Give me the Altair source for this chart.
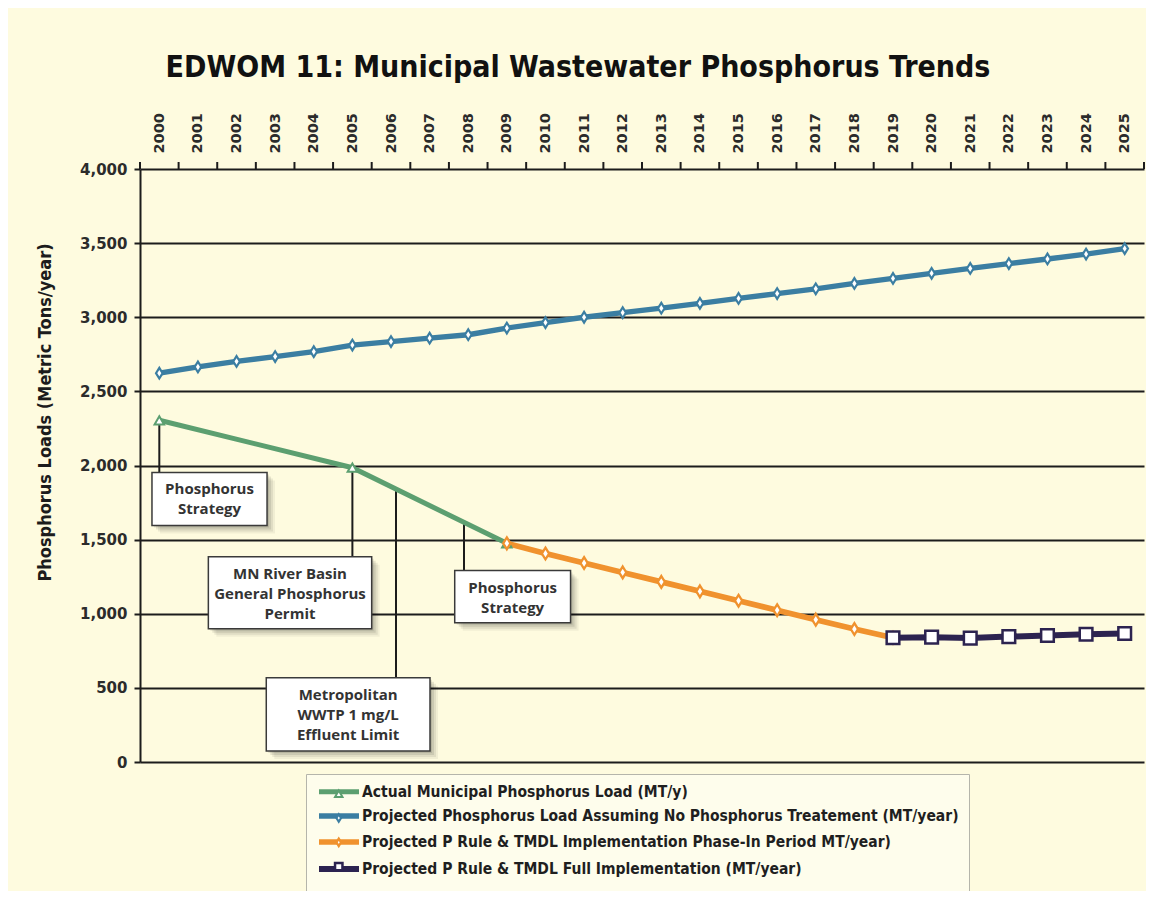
import altair as alt
import pandas as pd

# ---------------- data ----------------
years = list(range(2000, 2026))

S_ACTUAL = "Actual Municipal Phosphorus Load (MT/y)"
S_NOTREAT = "Projected Phosphorus Load Assuming No Phosphorus Treatement (MT/year)"
S_PHASE = "Projected P Rule & TMDL Implementation Phase-In Period MT/year)"
S_FULL = "Projected P Rule & TMDL Full Implementation (MT/year)"
series_names = [S_ACTUAL, S_NOTREAT, S_PHASE, S_FULL]

actual_years = [2000, 2005, 2009]
actual_values = [2305, 1985, 1475]

notreat_years = years
notreat_values = [2623, 2665, 2702, 2735, 2768, 2812, 2836, 2859, 2882, 2927,
                  2964, 3000, 3031, 3061, 3094, 3127, 3160, 3192, 3228, 3262,
                  3296, 3329, 3362, 3393, 3426, 3463]

phase_years = list(range(2009, 2020))
phase_values = [1475, 1406, 1342, 1279, 1215, 1151, 1088, 1024, 960, 897, 838]

full_years = list(range(2019, 2026))
full_values = [838, 842, 836, 846, 853, 862, 867]

y_ticks = [0, 500, 1000, 1500, 2000, 2500, 3000, 3500, 4000]

note_texts = ["Phosphorus\nStrategy",
              "MN River Basin\nGeneral Phosphorus\nPermit",
              "Metropolitan\nWWTP 1 mg/L\nEffluent Limit",
              "Phosphorus\nStrategy"]
note_anchor_year = [2000, 2005, 2006.13, 2007.89]
note_anchor_value = [2305, 1985, 1840, 1617]
note_box_x1 = [1999.81, 2001.27, 2002.77, 2007.65]
note_box_x2 = [2002.79, 2005.50, 2007.01, 2010.65]
note_box_top = [1953, 1385, 568, 1291]
note_box_bottom = [1595, 899, 74, 939]

# ---------------- styles ----------------
colors = ["#5c9f70", "#3b7ea2", "#f0922e", "#2c2350"]
line_widths = [5, 6, 5, 5]
marker_shapes = ["triangle-up", "M0,-1L0.62,0L0,1L-0.62,0Z", "M0,-1L0.62,0L0,1L-0.62,0Z", "square"]
marker_sizes = [90, 160, 160, 130]
marker_strokes = [2, 2.5, 2.5, 3]

BG = "#FEFBDF"
INK = "#1c1c1c"
COND = "DejaVu Sans Condensed, DejaVu Sans, sans-serif"
WIDE = "DejaVu Sans, Verdana, sans-serif"
BOXF = "Open Sans, DejaVu Sans, sans-serif"

rows = []
for s, ys, vs in [(S_ACTUAL, actual_years, actual_values),
                  (S_NOTREAT, notreat_years, notreat_values),
                  (S_PHASE, phase_years, phase_values),
                  (S_FULL, full_years, full_values)]:
    for y, v in zip(ys, vs):
        rows.append({"year": y, "value": v, "series": s})
df = pd.DataFrame(rows)

notes = pd.DataFrame({
    "text": note_texts,
    "ax": note_anchor_year,
    "ay": note_anchor_value,
    "x1": note_box_x1,
    "x2": note_box_x2,
    "top": note_box_top,
    "bottom": note_box_bottom,
})
notes["cx"] = (notes["x1"] + notes["x2"]) / 2

tick_df = pd.DataFrame({"x": [y - 0.5 for y in years] + [years[-1] + 0.5]})
tick_df["y"] = y_ticks[-1]

x_scale = alt.Scale(domain=[1999.5, 2025.5], nice=False, zero=False)
y_scale = alt.Scale(domain=[0, 4000], nice=False)

x_axis = alt.Axis(orient="top", values=years, format="d", labelAngle=270,
                  labelAlign="left", labelBaseline="middle", labelFont=WIDE,
                  labelFontSize=14.5, labelFontWeight="bold", labelColor="#2b2b2b",
                  labelPadding=16, ticks=False, domain=False, grid=False,
                  labelFlush=False, labelOverlap=False, title=None)
y_axis = alt.Axis(values=y_ticks, format=",d", labelFont=WIDE, labelFontSize=15,
                  labelFontWeight="bold", labelColor="#2b2b2b", labelPadding=7,
                  tickSize=6, tickColor=INK, tickWidth=2, domainColor=INK,
                  domainWidth=2, grid=True, gridColor=INK, gridWidth=2,
                  gridOpacity=1,
                  title="Phosphorus Loads (Metric Tons/year)", titleFont=COND,
                  titleFontSize=18, titleFontWeight="bold", titleColor=INK,
                  titleX=-95, titleY=243, titleAngle=270, titleAlign="center",
                  titleBaseline="middle")


def X(field):
    return alt.X(field, type="quantitative", scale=x_scale, axis=x_axis)


def Y(field):
    return alt.Y(field, type="quantitative", scale=y_scale, axis=y_axis)


stroke_scale = alt.Scale(domain=series_names, range=colors)

legend_common = dict(orient="none", legendX=166, padding=10,
                     title=None, labelFont=COND, labelFontSize=15.5,
                     labelFontWeight="bold",
                     symbolOffset=15, labelOffset=15, labelLimit=800)
line_legend = alt.Legend(symbolType="M-4,0H4", symbolSize=100,
                         symbolStrokeWidth=6, fillColor="#FEFDEC",
                         strokeColor="#b5b5ab", labelColor="#1f1f1f",
                         legendY=605, rowPadding=3, **legend_common)
point_legend = alt.Legend(symbolSize=55, symbolStrokeWidth=2,
                          symbolFillColor="white", labelColor="rgba(0,0,0,0)",
                          legendY=607, rowPadding=6.3, **legend_common)

# ---------------- layers ----------------
ticks = alt.Chart(tick_df).mark_rule(color=INK, strokeWidth=2, y2Offset=-7).encode(
    x=X("x"), y=Y("y"), y2="y")

shadow_layers = []
for off, op in [(8, 0.05), (6, 0.07), (4, 0.09), (2, 0.1)]:
    shadow_layers.append(
        alt.Chart(notes).mark_rect(fill="black", opacity=op, xOffset=off,
                                    x2Offset=off, yOffset=off, y2Offset=off).encode(
            x=X("x1"), x2="x2", y=Y("top"), y2="bottom"))

leaders = alt.Chart(notes).mark_rule(color=INK, strokeWidth=2).encode(
    x=X("ax"), y=Y("ay"), y2="top")

boxes = alt.Chart(notes).mark_rect(fill="white", stroke="#3a3a3a", strokeWidth=1.5).encode(
    x=X("x1"), x2="x2", y=Y("top"), y2="bottom")

box_text = alt.Chart(notes).mark_text(font=BOXF, fontSize=15, fontWeight="bold",
                                      color="#333333", lineBreak="\n", lineHeight=20,
                                      align="center", baseline="top", dy=10).encode(
    x=X("cx"), y=Y("top"), text="text:N")

lines = alt.Chart(df).mark_line().encode(
    x=X("year"), y=Y("value"),
    stroke=alt.Stroke("series:N", scale=stroke_scale, legend=line_legend),
    strokeWidth=alt.StrokeWidth("series:N", scale=alt.Scale(domain=series_names, range=line_widths), legend=None),
)

points = alt.Chart(df).mark_point(filled=True, fill="white", opacity=1).encode(
    x=X("year"), y=Y("value"),
    stroke=alt.Stroke("series:N", scale=stroke_scale, legend=point_legend),
    shape=alt.Shape("series:N", scale=alt.Scale(domain=series_names, range=marker_shapes), legend=point_legend),
    size=alt.Size("series:N", scale=alt.Scale(domain=series_names, range=marker_sizes), legend=None),
    strokeWidth=alt.StrokeWidth("series:N", scale=alt.Scale(domain=series_names, range=marker_strokes), legend=None),
    order=alt.Order("series_order:Q"),
).transform_calculate(
    series_order="indexof(%s, datum.series)" % str(series_names)
)

chart = alt.layer(ticks, *shadow_layers, leaders, boxes, box_text, lines, points).resolve_legend(
    stroke="independent", shape="independent"
).resolve_scale(strokeWidth="independent").properties(
    width=1004, height=593,
    background=BG,
    padding={"left": 132, "top": 161, "right": 2, "bottom": 129},
    autosize=alt.AutoSizeParams(type="none"),
    title=alt.TitleParams("EDWOM 11:  Municipal Wastewater Phosphorus Trends",
                          font=COND, fontSize=30, fontWeight="bold", color="#111111",
                          anchor="middle", dx=-64, offset=30),
).configure_view(stroke=None)

chart.save("out.html", embed_options={"renderer": "svg", "actions": False})
